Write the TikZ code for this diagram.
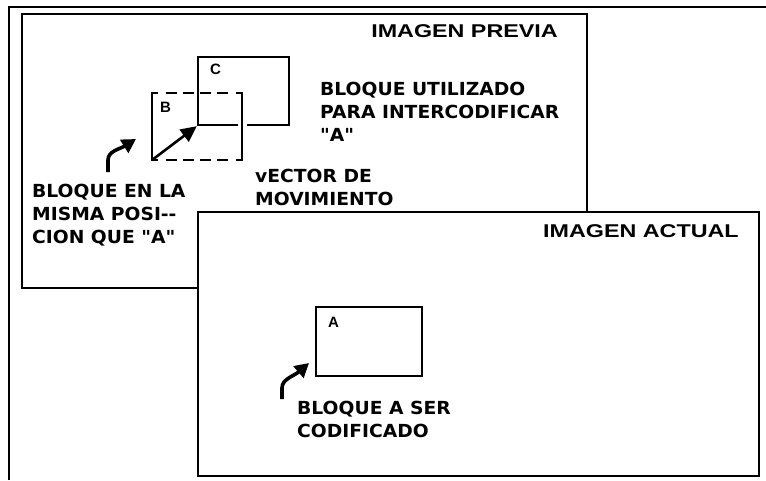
\documentclass[tikz,border=0pt]{standalone}
\usepackage{fontspec}
\usetikzlibrary{arrows.meta}
\newfontfamily\lblfont{DejaVu Sans Bold}[FakeStretch=1.04]
\newfontfamily\headfont{Liberation Sans Bold}[FakeStretch=1.26]
\newfontfamily\letfont{Liberation Sans Bold}
\tikzset{
  frameline/.style={draw=black, line width=2.4pt},
  imgbox/.style={draw=black, line width=2.4pt, fill=white, inner sep=0pt},
  blockbox/.style={draw=black, line width=2.3pt, inner sep=0pt},
  ghostbox/.style={inner sep=0pt},
  bside/.style={draw=black, line width=2.3pt},
  bdash/.style={draw=black, line width=2.3pt, dash pattern=on 5pt off 9pt on 11pt off 6pt on 11pt off 6pt on 11pt off 6pt on 11pt off 9pt on 5pt},
  lbl/.style={anchor=north west, inner sep=0pt, align=left, font=\lblfont\fontsize{18}{23}\selectfont},
  head/.style={inner sep=0pt, font=\headfont\fontsize{18.5}{20}\selectfont},
  letter/.style={anchor=north west, inner sep=0pt, font=\letfont\fontsize{15}{16}\selectfont},
  vecarrow/.style={line width=2.6pt, -{Triangle[length=16pt,width=15pt]}},
  curvarrow/.style={line width=3.6pt, -{Triangle[length=14pt,width=15pt]}}
}
\begin{document}
\begin{tikzpicture}[x=1pt,y=-1pt]
\useasboundingbox (0,0) rectangle (766,480);
\fill[white] (0,0) rectangle (766,480);
% outer frame
\coordinate (fbl) at (9,480);
\coordinate (ftl) at (9,7);
\coordinate (ftr) at (766,7);
\draw[frameline] (fbl) -- (ftl) -- (ftr);
% previous image
\node[imgbox, minimum width=565pt, minimum height=274pt] (previa) at (304.5,151) {};
\node[head, anchor=north east] (hprev) at (558,24) {IMAGEN PREVIA};
% block C
\node[blockbox, minimum width=91pt, minimum height=68pt] (C) at (243.5,91) {};
\node[letter] (Clab) at (210,64) {C};
% block B (dashed)
\node[ghostbox, minimum width=90pt, minimum height=67pt] (B) at (197,126.5) {};
\draw[white, line width=9pt] (242,119) -- (242,131);
\draw[bside] ([xshift=6pt]B.north west) -- (B.north west) -- (B.south west) -- ([xshift=6pt]B.south west);
\draw[bside] ([xshift=-6pt]B.north east) -- (B.north east) -- (B.south east) -- ([xshift=-6pt]B.south east);
\draw[bdash] (B.north west) -- (B.north east);
\draw[bdash] (B.south west) -- (B.south east);
\node[letter] (Blab) at (160,102) {B};
% motion vector
\draw[vecarrow] (B.south west) -- (C.south west);
% labels in previous image
\node[lbl] (lab1) at (32,184) {BLOQUE EN LA\\MISMA POSI-{}-\\CION QUE "A"};
\node[lbl] (lab2) at (320,82) {BLOQUE UTILIZADO\\PARA INTERCODIFICAR\\"A"};
\node[lbl] (lab3) at (255,169) {vECTOR DE\\MOVIMIENTO};
\coordinate (c1s) at (108,172);
\coordinate (c1e) at (136,139);
\draw[curvarrow] (c1s) -- (108,160) .. controls (108,151) and (120,149) .. (c1e);
% current image
\node[imgbox, minimum width=561pt, minimum height=264pt] (actual) at (478.5,344) {};
\node[head, anchor=north west] (hact) at (543,224) {IMAGEN ACTUAL};
\node[blockbox, minimum width=106pt, minimum height=69pt] (A) at (369,341.5) {};
\node[letter] (Alab) at (328,317) {A};
\node[lbl] (lab4) at (297,401) {BLOQUE A SER\\CODIFICADO};
\coordinate (c2s) at (282,399);
\coordinate (c2e) at (309,363);
\draw[curvarrow] (c2s) -- (282,388) .. controls (282,379) and (294,376) .. (c2e);
\end{tikzpicture}
\end{document}
